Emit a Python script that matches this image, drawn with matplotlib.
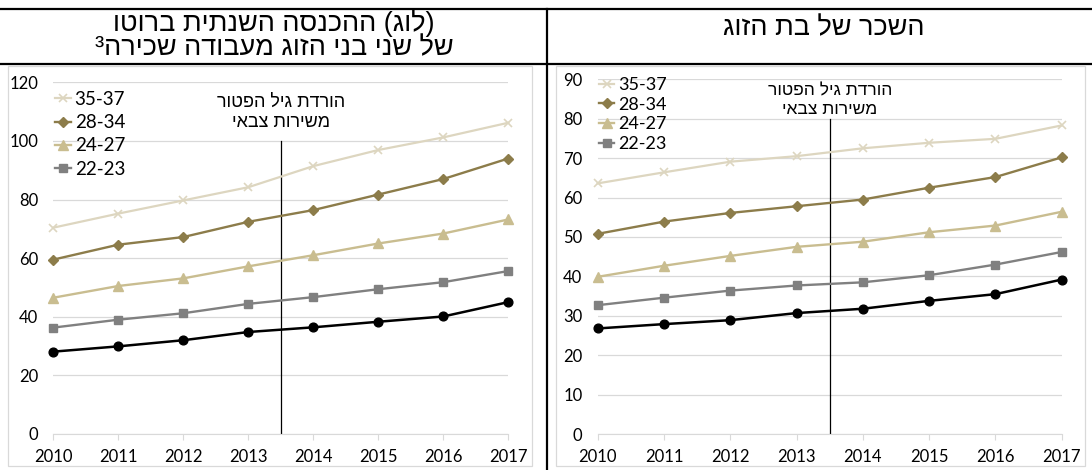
import matplotlib
matplotlib.use("Agg")
import matplotlib.pyplot as plt
from matplotlib.lines import Line2D

W, H = 1092, 470

years = [2010, 2011, 2012, 2013, 2014, 2015, 2016, 2017]
age_groups = ["35-37", "28-34", "24-27", "22-23"]

# left panel: (log) annual gross income of both spouses
inc_35_37 = [70.4, 75.2, 79.7, 84.2, 91.4, 96.9, 101.2, 106.2]
inc_28_34 = [59.5, 64.6, 67.2, 72.4, 76.4, 81.7, 87.0, 94.0]
inc_24_27 = [46.5, 50.5, 53.1, 57.2, 61.0, 65.0, 68.4, 73.2]
inc_22_23 = [36.3, 39.0, 41.2, 44.4, 46.7, 49.4, 51.8, 55.6]
inc_base = [28.1, 29.9, 32.0, 34.8, 36.4, 38.3, 40.1, 45.0]

# right panel: wife's wage
wage_35_37 = [63.6, 66.4, 69.1, 70.5, 72.5, 73.9, 74.9, 78.3]
wage_28_34 = [50.8, 53.9, 56.1, 57.8, 59.5, 62.5, 65.2, 70.2]
wage_24_27 = [39.9, 42.7, 45.2, 47.5, 48.8, 51.2, 52.9, 56.4]
wage_22_23 = [32.7, 34.6, 36.4, 37.7, 38.5, 40.3, 43.0, 46.2]
wage_base = [26.8, 27.9, 28.9, 30.7, 31.8, 33.8, 35.5, 39.2]

left_title = ["(לוג) ההכנסה השנתית ברוטו", "של שני בני הזוג מעבודה שכירה"]
right_title = "השכר של בת הזוג"
note_lines = ["הורדת גיל הפטור", "משירות צבאי"]
reform_year = 2013.5

styles = [
    dict(color="#DDD6C0", marker="x", ms=6, mew=1.2, lw=1.6),
    dict(color="#8C7C4A", marker="D", ms=4.8, lw=1.7),
    dict(color="#C9BD90", marker="^", ms=6.5, lw=1.7),
    dict(color="#808080", marker="s", ms=5.8, lw=1.7),
]
base_style = dict(color="black", marker="o", ms=6.3, lw=1.8)

HEB = ["Liberation Sans", "DejaVu Sans"]
NUM = ["Lato", "DejaVu Sans"]

mirror = str.maketrans("()", ")(")


def heb(s):
    # matplotlib has no bidi, so lay the hebrew out in visual order
    return s[::-1].translate(mirror)


def fx(x):
    return x / W


def fy(y):
    return 1 - y / H


fig = plt.figure(figsize=(W / 100, H / 100), dpi=100)

# table lines around the two cells
fig.add_artist(Line2D([0, 1], [fy(9), fy(9)], color="black", lw=1.6))
fig.add_artist(Line2D([0, 1], [fy(63.5), fy(63.5)], color="black", lw=1.6))
fig.add_artist(Line2D([fx(547), fx(547)], [fy(9), 0], color="black", lw=1.6))

# gray chart frames
for x0, x1 in [(8, 532), (556, 1085)]:
    fig.add_artist(plt.Rectangle((fx(x0), fy(466)), fx(x1 - x0), (466 - 66) / H,
                                 fill=False, ec="#D9D9D9", lw=0.9))

fig.text(fx(274), fy(35), heb(left_title[0]) + "\n³" + heb(left_title[1]),
         ha="center", va="center", fontsize=19.5, family=HEB, linespacing=0.92)
fig.text(fx(824), fy(28), heb(right_title), ha="center", va="center",
         fontsize=19.5, family=HEB)


def draw_panel(box, ymax, ystep, series, base, line_top, note_y, note_size,
               leg_xy, leg_size, leg_space):
    x0, y_top, x1, y_bot = box
    ax = fig.add_axes([fx(x0), fy(y_bot), fx(x1 - x0), (y_bot - y_top) / H])
    ax.plot(years, base, clip_on=False, zorder=3, **base_style)
    handles = []
    for vals, lab, st in zip(series, age_groups, styles):
        ln, = ax.plot(years, vals, label=lab, clip_on=False, zorder=3, **st)
        handles.append(ln)
    ax.plot([reform_year, reform_year], [0, line_top], color="black", lw=0.9,
            zorder=2)
    ax.set_xlim(2010, 2017)
    ax.set_ylim(0, ymax)
    ax.set_xticks(years)
    ax.set_yticks(range(0, ymax + 1, ystep))
    ax.grid(axis="y", color="#D9D9D9", lw=0.9)
    ax.set_axisbelow(True)
    for sp in ax.spines.values():
        sp.set_visible(False)
    ax.spines["bottom"].set_visible(True)
    ax.spines["bottom"].set_color("#D9D9D9")
    ax.tick_params(axis="y", length=0, pad=11, labelsize=12)
    ax.tick_params(axis="x", length=4, color="#D9D9D9", pad=7, labelsize=12)
    for t in ax.get_xticklabels() + ax.get_yticklabels():
        t.set_family(NUM)
    note = heb(note_lines[0]) + "\n" + heb(note_lines[1])
    ax.text(reform_year, 1 - ((note_y[0] + note_y[1]) / 2 - y_top) / (y_bot - y_top),
            note, transform=ax.get_xaxis_transform(), ha="center", va="center",
            fontsize=note_size, family=HEB, linespacing=1.25)
    ax.legend(handles=handles, loc="upper left",
              bbox_to_anchor=(fx(leg_xy[0]), fy(leg_xy[1])),
              bbox_transform=fig.transFigure, frameon=False,
              borderpad=0, borderaxespad=0, handlelength=0.85,
              handletextpad=0.2, labelspacing=leg_space, numpoints=1,
              prop=dict(family=NUM, size=leg_size))
    return ax


draw_panel((53.3, 82.3, 508.3, 434), 120, 20,
           [inc_35_37, inc_28_34, inc_24_27, inc_22_23], inc_base,
           100, [101, 124], 13, (55, 91), 13.5, 0.33)
draw_panel((597.7, 79.3, 1061.7, 434.1), 90, 10,
           [wage_35_37, wage_28_34, wage_24_27, wage_22_23], wage_base,
           80, [89, 111], 12.5, (599, 77), 13, 0.2)

fig.savefig("out.png", dpi=100)
